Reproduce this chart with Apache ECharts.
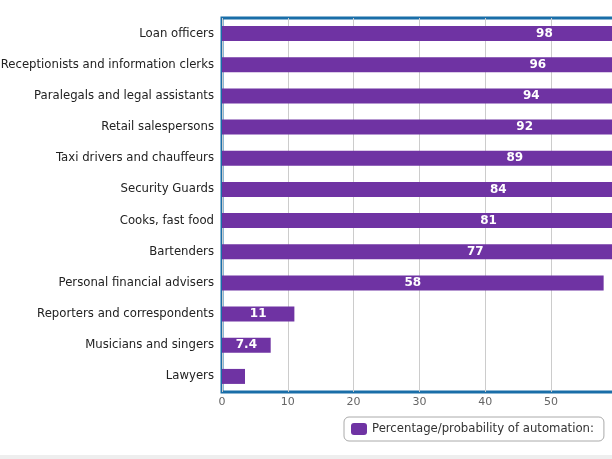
<!DOCTYPE html>
<html>
<head>
<meta charset="utf-8">
<script src="https://cdn.jsdelivr.net/npm/echarts@6/dist/echarts.min.js"></script>
<style>
html,body{margin:0;padding:0;background:#fff;overflow:hidden;width:612px;height:459px;}
#chart{width:900px;height:459px;}
</style>
</head>
<body>
<div id="chart"></div>
<script>
const categories = [
  "Loan officers",
  "Receptionists and information clerks",
  "Paralegals and legal assistants",
  "Retail salespersons",
  "Taxi drivers and chauffeurs",
  "Security Guards",
  "Cooks, fast food",
  "Bartenders",
  "Personal financial advisers",
  "Reporters and correspondents",
  "Musicians and singers",
  "Lawyers"
];
const values = [98, 96, 94, 92, 89, 84, 81, 77, 58, 11, 7.4, 3.5];
const showLabel = [true, true, true, true, true, true, true, true, true, true, true, false];
const tickLabels = ["0", "10", "20", "30", "40", "50"];
const seriesName = "Percentage/probability of automation:";

const FONT = "DejaVu Sans";
const chart = echarts.init(document.getElementById('chart'), null, {renderer: 'canvas'});
chart.setOption({
  animation: false,
  backgroundColor: '#ffffff',
  textStyle: {fontFamily: FONT},
  grid: {left: 222, top: 18, width: 658, height: 374, show: true, borderColor: '#1a6ea8', borderWidth: 3,
    containLabel: false, outerBoundsMode: 'none'},
  xAxis: {
    type: 'value', min: 0, max: 100, interval: 10,
    axisLine: {show: false}, axisTick: {show: false},
    splitLine: {show: true, lineStyle: {color: '#cccccc', width: 1}},
    axisLabel: {color: '#666666', fontSize: 11, fontFamily: FONT, margin: 5,
      formatter: v => tickLabels.indexOf(String(v)) >= 0 ? String(v) : ''}
  },
  yAxis: {
    type: 'category', data: categories, inverse: true,
    axisLine: {show: false}, axisTick: {show: false},
    axisLabel: {color: '#222222', fontSize: 11.7, fontFamily: FONT, margin: 8}
  },
  legend: {
    show: true, left: 344, top: 417,
    data: [seriesName],
    icon: 'roundRect', itemWidth: 16, itemHeight: 12, itemGap: 6,
    borderColor: '#aaaaaa', borderWidth: 1, borderRadius: 5,
    padding: [6, 10, 6, 7],
    textStyle: {color: '#333333', fontSize: 11.7, fontFamily: FONT}
  },
  series: [{
    name: seriesName, type: 'bar',
    data: values.map((v, i) => ({value: v, label: {show: showLabel[i]}})),
    barWidth: 15,
    itemStyle: {color: '#6f33a3'},
    label: {show: true, position: 'inside', color: '#ffffff', fontWeight: 'bold', fontSize: 12, fontFamily: FONT}
  }],
  graphic: [{type: 'rect', shape: {x: 0, y: 455, width: 900, height: 4}, style: {fill: '#eeeeee'}, silent: true}]
});
</script>
</body>
</html>
